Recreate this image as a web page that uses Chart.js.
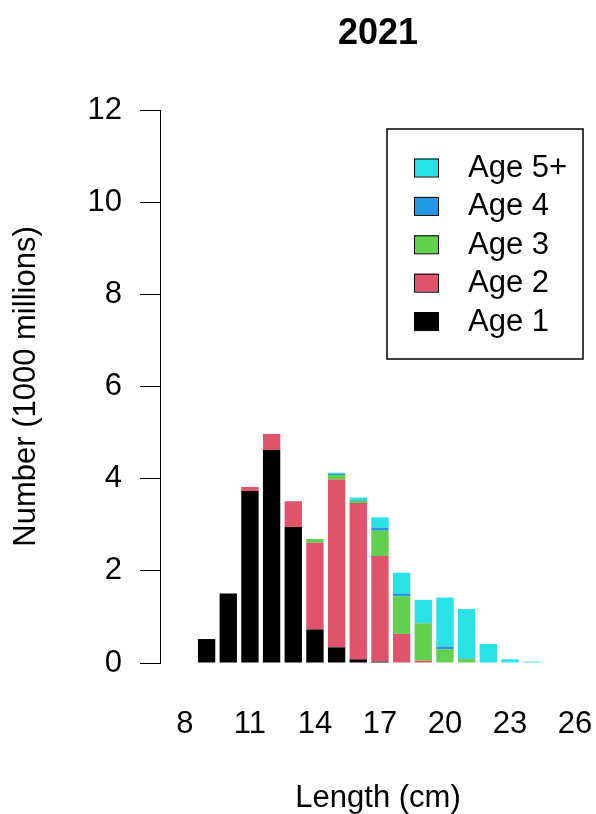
<!DOCTYPE html>
<html>
<head>
<meta charset="utf-8">
<script src="https://cdn.jsdelivr.net/npm/chart.js@4"></script>
<style>
  html, body { margin: 0; padding: 0; background: #fff; }
  #wrap { width: 596px; height: 814px; }
</style>
</head>
<body>
<div id="wrap"><canvas id="lengthChart" width="596" height="814"></canvas></div>
<script>
// Length distribution by age group, 2021
const lengths = [9, 10, 11, 12, 13, 14, 15, 16, 17, 18, 19, 20, 21, 22, 23, 24];
const age1 = [0.52, 1.51, 3.73, 4.62, 2.95, 0.73, 0.34, 0.08, 0.03, 0, 0, 0, 0, 0, 0, 0];
const age2 = [0, 0, 0.09, 0.35, 0.56, 1.88, 3.64, 3.39, 2.29, 0.63, 0.05, 0, 0, 0, 0, 0];
const age3 = [0, 0, 0, 0, 0, 0.08, 0.10, 0.05, 0.55, 0.82, 0.81, 0.30, 0.09, 0, 0, 0];
const age4 = [0, 0, 0, 0, 0, 0, 0.03, 0.02, 0.07, 0.06, 0.01, 0.06, 0.01, 0, 0, 0];
const age5 = [0, 0, 0, 0, 0, 0, 0.02, 0.05, 0.22, 0.45, 0.50, 1.06, 1.07, 0.41, 0.08, 0.03];
const xTickValues = [8, 11, 14, 17, 20, 23, 26];
const ageLabels = ['Age 1', 'Age 2', 'Age 3', 'Age 4', 'Age 5+'];
const ageColors = ['#000000', '#DF536B', '#61D04F', '#2297E6', '#28E2E5'];

const fontFamily = '"Liberation Sans", Arial, sans-serif';
Chart.defaults.font.family = fontFamily;
Chart.defaults.color = '#000';

const series = [age1, age2, age3, age4, age5];
const datasets = series.map((vals, i) => ({
    label: ageLabels[i],
    data: lengths.map((len, j) => ({ x: len, y: vals[j] })),
    backgroundColor: ageColors[i],
    borderWidth: 0,
    barPercentage: 0.8,
    categoryPercentage: 1.0
}));

// title above the plot
const titlePlugin = {
    id: 'plotTitle',
    afterDraw(chart) {
        const ctx = chart.ctx;
        const area = chart.chartArea;
        ctx.save();
        ctx.fillStyle = '#000';
        ctx.font = 'bold 36px ' + fontFamily;
        ctx.textAlign = 'center';
        ctx.textBaseline = 'middle';
        ctx.fillText('2021', (area.left + area.right) / 2, 34);
        ctx.restore();
    }
};

// boxed legend in the top right corner, oldest age first
const boxLegend = {
    id: 'boxLegend',
    afterDraw(chart) {
        const ctx = chart.ctx;
        const area = chart.chartArea;
        const right = area.right - 13;
        const top = area.top + 19;
        const w = 196, h = 230;
        const left = right - w;
        ctx.save();
        ctx.fillStyle = '#fff';
        ctx.fillRect(left, top, w, h);
        ctx.strokeStyle = '#000';
        ctx.lineWidth = 1.5;
        ctx.strokeRect(left, top, w, h);
        ctx.font = '31px ' + fontFamily;
        ctx.textAlign = 'left';
        ctx.textBaseline = 'middle';
        const items = chart.data.datasets.slice().reverse();
        items.forEach((ds, i) => {
            const cy = top + 38.5 + i * 38.4;
            ctx.fillStyle = ds.backgroundColor;
            ctx.fillRect(left + 27, cy - 9, 24, 18);
            ctx.lineWidth = 1;
            ctx.strokeRect(left + 27.5, cy - 8.5, 24, 18);
            ctx.fillStyle = '#000';
            ctx.fillText(ds.label, left + 81, cy + 1);
        });
        ctx.restore();
    }
};

const ctx = document.getElementById('lengthChart').getContext('2d');
const lengthChart = new Chart(ctx, {
    type: 'bar',
    data: { datasets: datasets },
    options: {
        responsive: false,
        animation: false,
        layout: { padding: { top: 110, right: 0, bottom: 0, left: 0 } },
        plugins: {
            legend: { display: false },
            tooltip: { enabled: false }
        },
        scales: {
            x: {
                type: 'linear',
                stacked: true,
                offset: false,
                min: 6.85,
                max: 26.97,
                afterBuildTicks: (scale) => {
                    scale.ticks = xTickValues.map(v => ({ value: v }));
                },
                afterFit: (scale) => {
                    scale.height = 151;
                    scale.paddingLeft = 0;
                    scale.paddingRight = 0;
                },
                grid: { display: false },
                border: { display: false },
                ticks: {
                    autoSkip: false,
                    maxRotation: 0,
                    padding: 35,
                    color: '#000',
                    font: { size: 31 }
                },
                title: {
                    display: true,
                    text: 'Length (cm)',
                    color: '#000',
                    font: { size: 31 },
                    padding: { top: 0, bottom: -3 }
                }
            },
            y: {
                stacked: true,
                min: 0,
                max: 12,
                afterFit: (scale) => { scale.width = 160; },
                grid: {
                    drawOnChartArea: false,
                    drawTicks: true,
                    tickLength: 20,
                    color: '#000',
                    lineWidth: 1
                },
                border: { display: true, color: '#000', width: 1 },
                ticks: {
                    stepSize: 2,
                    padding: 18,
                    color: '#000',
                    font: { size: 31 }
                },
                title: {
                    display: true,
                    text: 'Number (1000 millions)',
                    color: '#000',
                    font: { size: 31 },
                    padding: { top: 8, bottom: 0 }
                }
            }
        }
    },
    plugins: [titlePlugin, boxLegend]
});
</script>
</body>
</html>
